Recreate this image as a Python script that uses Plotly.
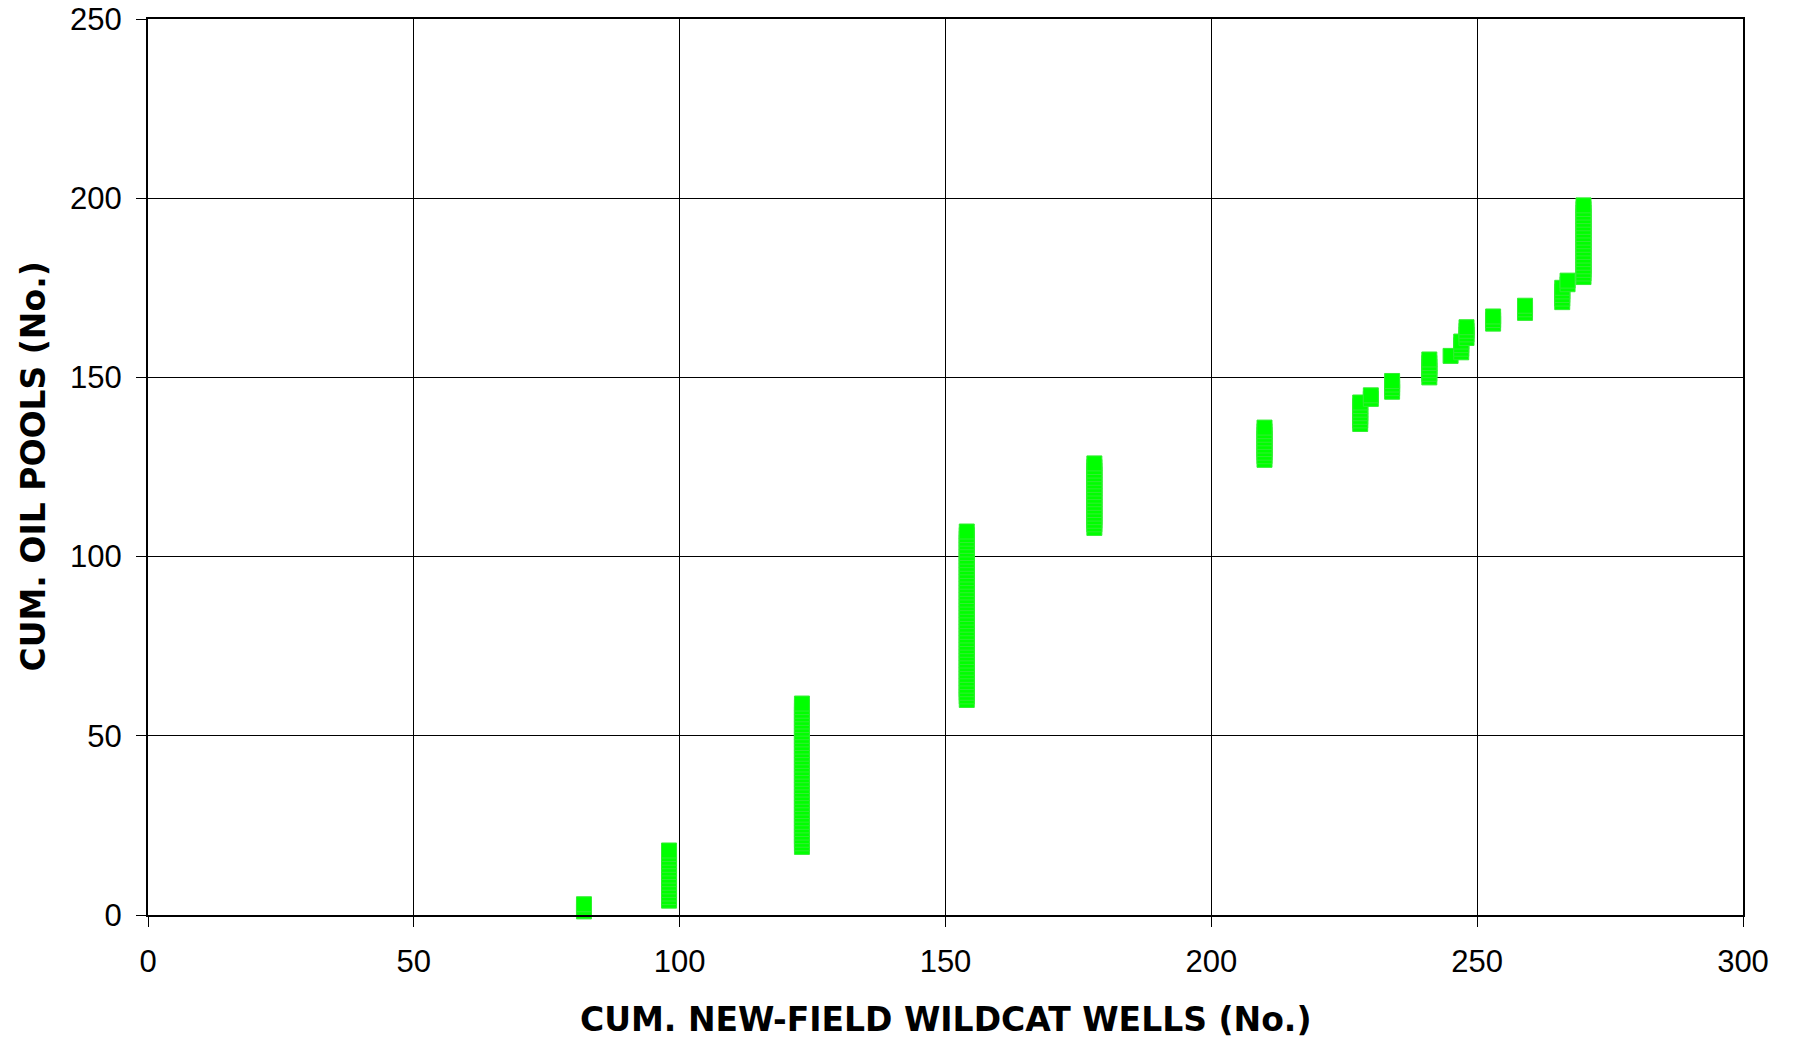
import numpy as np
import plotly.graph_objects as go

# cumulative new-field wildcat wells at which pools were found,
# and how many new pools were logged at each of those well counts
wells = [82, 98, 123, 154, 178, 210, 228, 230, 234, 241, 245, 247, 248, 253, 259, 266, 267, 270]
new_pools = [3, 15, 41, 48, 19, 10, 7, 2, 4, 6, 1, 4, 4, 3, 3, 5, 2, 21]

x_ticks = [0, 50, 100, 150, 200, 250, 300]
y_ticks = [0, 50, 100, 150, 200, 250]

# one point per pool: cumulative pool count vs cumulative wells
x = np.repeat(wells, new_pools)
y = np.arange(1, len(x) + 1)

fig = go.Figure()
fig.add_trace(go.Scatter(
    x=x, y=y, mode='markers',
    marker=dict(symbol='square', size=15, color='#00ff00',
                line=dict(width=1, color='#33ee33')),
    showlegend=False, cliponaxis=False))

font = 'Liberation Sans, Arial, sans-serif'
title_font = dict(family='DejaVu Sans', size=33, color='#000')
axis_style = dict(showgrid=True, gridcolor='#000', gridwidth=1, showline=True, linecolor='#000',
                  linewidth=2, mirror=True, ticks='outside', ticklen=10, tickcolor='#000',
                  zeroline=False, tickfont=dict(family=font, size=31, color='#000'),
                  automargin=False, ticklabeloverflow='allow')
fig.update_xaxes(range=[0, 300], tickvals=x_ticks, ticklabelstandoff=8, **axis_style)
fig.update_yaxes(range=[0, 250], tickvals=y_ticks, ticklabelstandoff=8, **axis_style)

fig.add_annotation(text='<b>CUM. NEW-FIELD WILDCAT WELLS (No.)</b>', xref='paper', yref='paper',
                   x=0.5, y=-0.117, yanchor='middle', showarrow=False, font=title_font)
fig.add_annotation(text='<b>CUM. OIL POOLS (No.)</b>', xref='paper', yref='paper',
                   x=-0.0724, y=0.5, xanchor='center', textangle=-90, showarrow=False, font=title_font)

fig.update_layout(width=1793, height=1043, paper_bgcolor='white', plot_bgcolor='white',
                  margin=dict(l=148, r=50, t=19, b=128))
# drop the default body margin so the figure sits at the page corner
fig.write_html("out.html", config={'displayModeBar': False},
               post_script="document.body.style.margin = '0';")
